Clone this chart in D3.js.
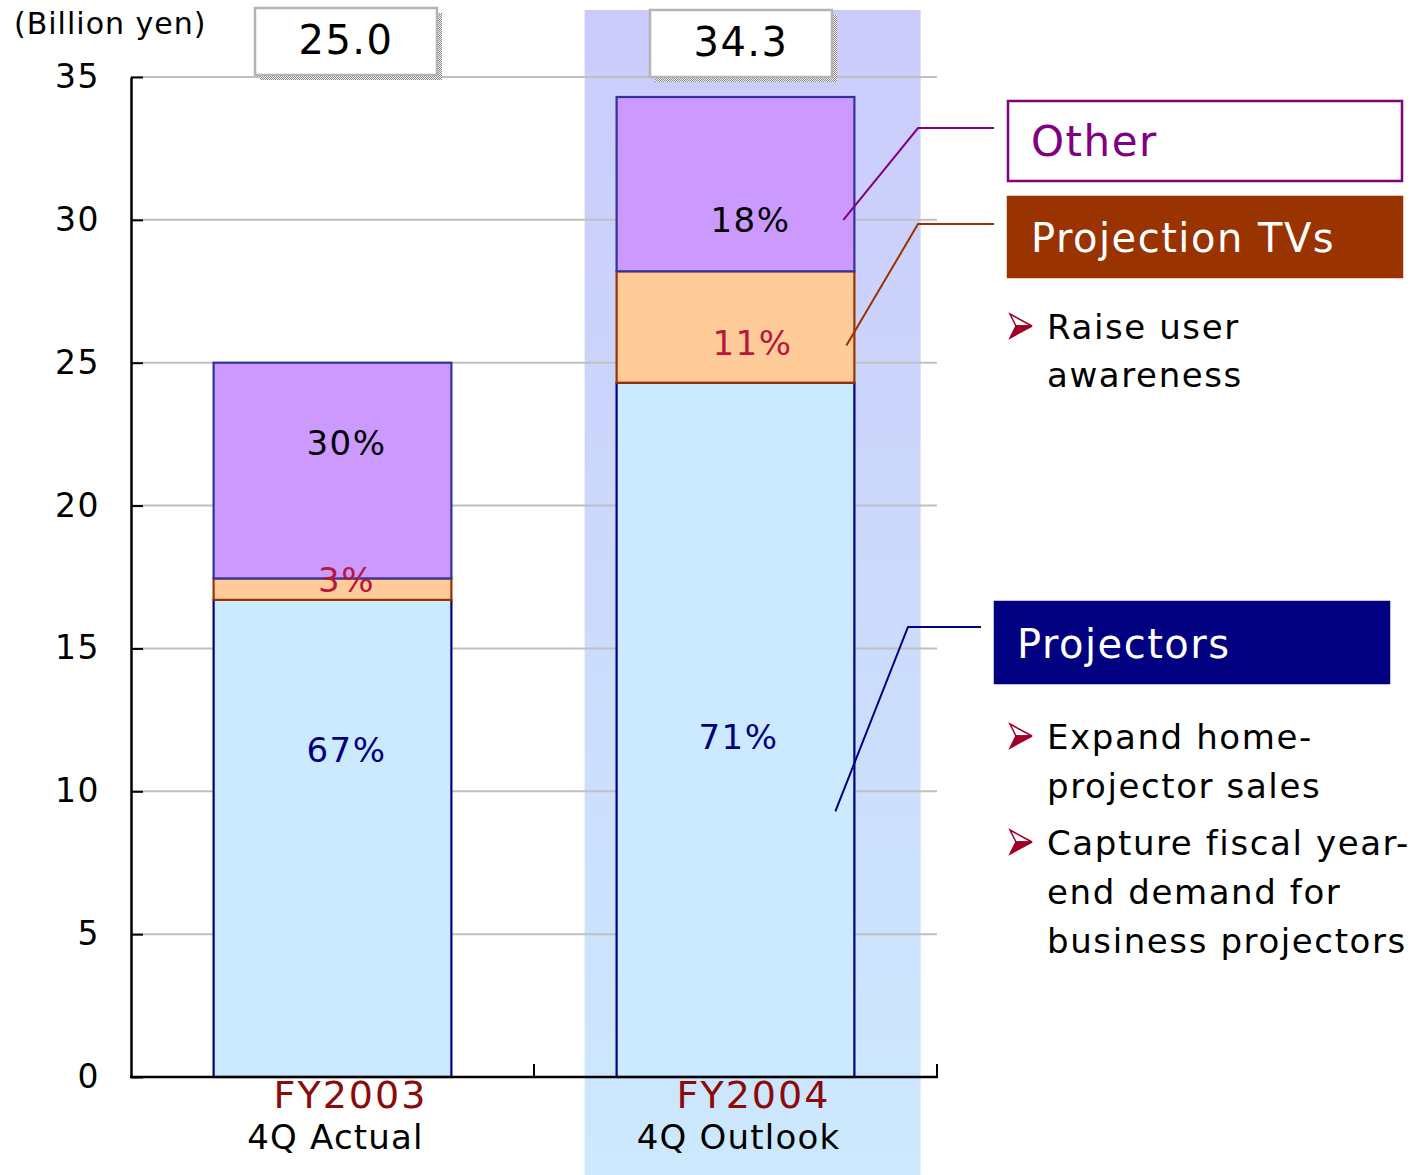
<!DOCTYPE html>
<html>
<head>
<meta charset="utf-8">
<script src="https://cdn.jsdelivr.net/npm/d3@7/dist/d3.min.js"></script>
<style>
  html, body { margin: 0; padding: 0; background: #fff; }
  svg { display: block; font-family: "DejaVu Sans", Verdana, sans-serif; }
</style>
</head>
<body>
<svg id="chart" width="1414" height="1175"></svg>
<script>
// Sales breakdown by product, billion yen
const categories = ["FY2003", "FY2004"];
const periodLabels = ["4Q Actual", "4Q Outlook"];
const projectors = [16.7, 24.3];
const projectionTVs = [0.75, 3.9];
const other = [7.55, 6.1];
const yTicks = [0, 5, 10, 15, 20, 25, 30, 35];

const seriesNames = ["Projectors", "Projection TVs", "Other"];
const bulletsTVs = [["Raise user", "awareness"]];
const bulletsProjectors = [["Expand home-", "projector sales"],
                           ["Capture fiscal year-", "end demand for", "business projectors"]];

// ---- layout ----
const svg = d3.select("#chart");
const plot = { left: 131, right: 937, top: 77, bottom: 1077 };

const y = d3.scaleLinear().domain([0, 35]).range([plot.bottom, plot.top]);
const x = d3.scaleBand().domain(categories).range([plot.left, plot.right])
  .paddingInner(0.41).paddingOuter(0.205);

const rows = categories.map((c, i) => ({
  cat: c, Projectors: projectors[i], "Projection TVs": projectionTVs[i], Other: other[i]
}));
const stack = d3.stack().keys(seriesNames)(rows);
const totals = rows.map(r => r.Projectors + r["Projection TVs"] + r.Other);

const style = {
  "Projectors":     { fill: "#cceaff", stroke: "#000080", label: "#000080" },
  "Projection TVs": { fill: "#ffcc99", stroke: "#993300", label: "#b8163c" },
  "Other":          { fill: "#cc99ff", stroke: "#333399", label: "#000000" }
};

// ---- highlighted outlook column ----
const defs = svg.append("defs");
const grad = defs.append("linearGradient").attr("id", "outlookBand")
  .attr("x1", 0).attr("y1", 0).attr("x2", 0).attr("y2", 1);
grad.append("stop").attr("offset", "0%").attr("stop-color", "#cbcbfb");
grad.append("stop").attr("offset", "100%").attr("stop-color", "#cce9fd");

const checker = defs.append("pattern").attr("id", "checker")
  .attr("width", 2).attr("height", 2).attr("patternUnits", "userSpaceOnUse");
checker.append("rect").attr("width", 2).attr("height", 2).attr("fill", "#ffffff");
checker.append("rect").attr("width", 1).attr("height", 1).attr("fill", "#808080");
checker.append("rect").attr("x", 1).attr("y", 1).attr("width", 1).attr("height", 1).attr("fill", "#808080");

const bandX0 = x("FY2004") - 32;
svg.append("rect")
  .attr("x", bandX0).attr("y", 10)
  .attr("width", 336).attr("height", 1175 - 10)
  .attr("fill", "url(#outlookBand)");

// ---- gridlines ----
svg.append("g").selectAll("line")
  .data(yTicks.filter(t => t > 0))
  .join("line")
  .attr("x1", plot.left).attr("x2", plot.right)
  .attr("y1", d => y(d)).attr("y2", d => y(d))
  .attr("stroke", "#c0c0c0").attr("stroke-width", 2);

// ---- stacked bars ----
const barG = svg.append("g");
stack.forEach(layer => {
  const st = style[layer.key];
  barG.selectAll(null)
    .data(layer)
    .join("rect")
    .attr("x", d => x(d.data.cat))
    .attr("y", d => y(d[1]))
    .attr("width", x.bandwidth())
    .attr("height", d => y(d[0]) - y(d[1]))
    .attr("fill", st.fill)
    .attr("stroke", st.stroke)
    .attr("stroke-width", 2.2);
});

// ---- share labels ----
// vertical anchor of each share label, in axis units
const labelAt = {
  "Projectors":     [11.45, 11.9],
  "Projection TVs": [17.4, 25.7],
  "Other":          [22.2, 30.0]
};
const labelDx = {
  "Projectors":     [14, 3],
  "Projection TVs": [14, 17],
  "Other":          [14, 15]
};
stack.forEach(layer => {
  layer.forEach((d, i) => {
    const share = Math.round((d[1] - d[0]) / totals[i] * 100);
    svg.append("text")
      .attr("x", x(d.data.cat) + x.bandwidth() / 2 + labelDx[layer.key][i])
      .attr("y", y(labelAt[layer.key][i]))
      .attr("dy", "0.36em")
      .attr("text-anchor", "middle")
      .attr("font-size", 34)
      .attr("letter-spacing", 1.5)
      .attr("fill", style[layer.key].label)
      .text(share + "%");
  });
});

// ---- axes ----
const yAxis = d3.axisLeft(y).tickValues(yTicks).tickSize(-12).tickSizeOuter(0).tickPadding(31);
const yG = svg.append("g").attr("transform", `translate(${plot.left},0)`).call(yAxis);
yG.select(".domain").attr("stroke", "#000").attr("stroke-width", 2.5);
yG.selectAll(".tick line").attr("stroke", "#000").attr("stroke-width", 2);
yG.selectAll(".tick text")
  .attr("font-family", "DejaVu Sans, sans-serif")
  .attr("font-size", 33).attr("letter-spacing", 1.5).attr("fill", "#000");

// x axis baseline with inward ticks at category boundaries
svg.append("line")
  .attr("x1", plot.left - 1).attr("x2", plot.right + 1)
  .attr("y1", plot.bottom).attr("y2", plot.bottom)
  .attr("stroke", "#000").attr("stroke-width", 2.5);
const boundaries = categories.map(c => x(c) + x.bandwidth() / 2 + x.step() / 2);
svg.append("g").selectAll("line").data(boundaries).join("line")
  .attr("x1", d => d).attr("x2", d => d)
  .attr("y1", plot.bottom).attr("y2", plot.bottom - 13)
  .attr("stroke", "#000").attr("stroke-width", 2);

// category labels
categories.forEach((c, i) => {
  const cx = x(c) + x.bandwidth() / 2;
  svg.append("text")
    .attr("x", cx + 18).attr("y", 1108)
    .attr("text-anchor", "middle")
    .attr("font-size", 38).attr("letter-spacing", 2)
    .attr("fill", "#8b0a0a")
    .text(c);
  svg.append("text")
    .attr("x", cx + 3).attr("y", 1149)
    .attr("text-anchor", "middle")
    .attr("font-size", 34)
    .attr("letter-spacing", 1.2)
    .attr("fill", "#000")
    .text(periodLabels[i]);
});

// unit label
svg.append("text")
  .attr("x", 14).attr("y", 34)
  .attr("font-size", 30).attr("letter-spacing", 1)
  .attr("fill", "#000")
  .text("(Billion yen)");

// ---- total boxes ----
const totalBoxY = [8, 10];
totals.forEach((t, i) => {
  const cx = x(categories[i]) + x.bandwidth() / 2 + (i === 0 ? 13.5 : 5.5);
  const bx = cx - 91, by = totalBoxY[i];
  svg.append("rect")
    .attr("x", bx + 5).attr("y", by + 5).attr("width", 182).attr("height", 67)
    .attr("fill", "url(#checker)");
  svg.append("rect")
    .attr("x", bx).attr("y", by).attr("width", 182).attr("height", 67)
    .attr("fill", "#fff").attr("stroke", "#b4b4b4").attr("stroke-width", 2.5);
  svg.append("text")
    .attr("x", cx).attr("y", by + 46)
    .attr("text-anchor", "middle")
    .attr("font-size", 40).attr("letter-spacing", 1.5)
    .attr("fill", "#000")
    .text(t.toFixed(1));
});

// ---- callouts ----
const barRight = x("FY2004") + x.bandwidth();
const leaders = [
  { color: "#800080", from: [barRight - 11, y(30.0)], knee: [918, 128], end: 994 },
  { color: "#993300", from: [barRight - 8, y(25.6)], knee: [918, 224], end: 994 },
  { color: "#000080", from: [barRight - 19, y(9.3)], knee: [908, 627], end: 981 }
];
leaders.forEach(l => {
  svg.append("path")
    .attr("d", d3.line()([l.from, l.knee, [l.end, l.knee[1]]]))
    .attr("fill", "none").attr("stroke", l.color).attr("stroke-width", 2);
});

const legendBoxes = [
  { text: "Other", x: 1008, y: 101, w: 394, h: 80, fill: "#fff", stroke: "#800080", color: "#800080", size: 42, tx: 1031 },
  { text: "Projection TVs", x: 1008, y: 197, w: 394, h: 80, fill: "#993300", stroke: "#993300", color: "#fff", size: 40, tx: 1031 },
  { text: "Projectors", x: 995, y: 602, w: 394, h: 81, fill: "#000080", stroke: "#000080", color: "#fff", size: 40, tx: 1017 }
];
legendBoxes.forEach(b => {
  svg.append("rect")
    .attr("x", b.x).attr("y", b.y).attr("width", b.w).attr("height", b.h)
    .attr("fill", b.fill).attr("stroke", b.stroke).attr("stroke-width", 2.5);
  svg.append("text")
    .attr("x", b.tx).attr("y", b.y + b.h / 2 + 15)
    .attr("font-size", b.size).attr("letter-spacing", 1.5)
    .attr("fill", b.color)
    .text(b.text);
});

// bullet lists
function arrowBullet(cx, cy) {
  const g = svg.append("g").attr("transform", `translate(${cx},${cy})`);
  g.append("path").attr("d", "M0,-12 L22,0 L6,0 Z")
    .attr("fill", "#fff").attr("stroke", "#a00028").attr("stroke-width", 1.5)
    .attr("stroke-linejoin", "miter");
  g.append("path").attr("d", "M0,12 L22,0 L6,0 Z")
    .attr("fill", "#a00028").attr("stroke", "#a00028").attr("stroke-width", 1.5);
}
function bulletList(items, firstBaseline, gap, lineH) {
  let yb = firstBaseline;
  items.forEach(lines => {
    arrowBullet(1010, yb - 13);
    lines.forEach((ln, k) => {
      svg.append("text")
        .attr("x", 1047).attr("y", yb + k * lineH)
        .attr("font-size", 34).attr("letter-spacing", 1.6)
        .attr("fill", "#000")
        .text(ln);
    });
    yb += (lines.length - 1) * lineH + gap;
  });
}
bulletList(bulletsTVs, 339, 0, 48);
bulletList(bulletsProjectors, 749, 57, 49);
</script>
</body>
</html>
